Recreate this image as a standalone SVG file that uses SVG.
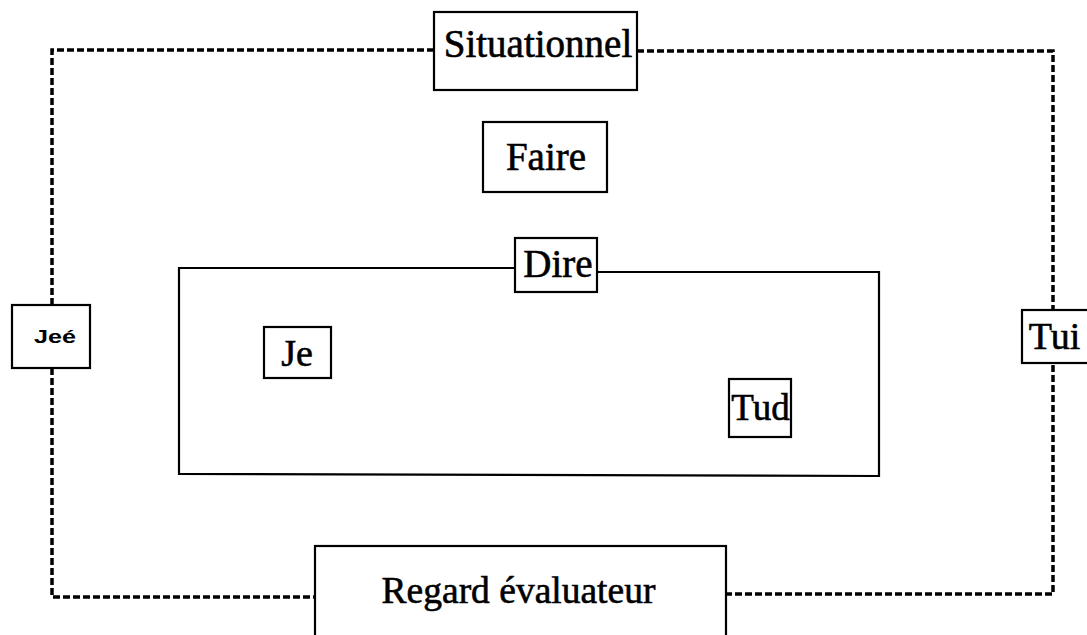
<svg xmlns="http://www.w3.org/2000/svg" width="1087" height="635" viewBox="0 0 1087 635">
<style>
.box{fill:#fff;stroke:#000;stroke-width:2.2}
.t{font-family:"Liberation Serif","Times New Roman",serif;fill:#000;stroke:#000;stroke-width:0.6;text-anchor:middle}
.s{font-family:"Liberation Sans",Arial,sans-serif;font-weight:bold;fill:#000;text-anchor:middle}
.dash{fill:none;stroke:#000;stroke-width:3.5;stroke-dasharray:7 3}
.solid{fill:none;stroke:#000;stroke-width:2.2}
</style>
<rect width="1087" height="635" fill="#fff"/>
<g id="connectors">
<polyline class="dash" points="434,50 52,50 52,597 316,597"/>
<polyline class="dash" points="637,51 1053,51 1053,594 726,594"/>
<polyline id="dire-frame" class="solid" points="515,268 179,268 179,474 879,476 879,272 597,272"/>
</g>
<g id="situationnel"><rect class="box" x="434" y="12" width="203" height="78"/><text class="t" x="538" y="57" font-size="39">Situationnel</text></g>
<g id="faire"><rect class="box" x="483" y="122" width="124" height="70"/><text class="t" x="546" y="170" font-size="39">Faire</text></g>
<g id="dire"><rect class="box" x="515" y="238" width="82" height="54"/><text class="t" x="558" y="277" font-size="39">Dire</text></g>
<g id="je"><rect class="box" x="264" y="327" width="67" height="51"/><text class="t" x="297" y="366" font-size="38">Je</text></g>
<g id="tud"><rect class="box" x="729" y="379" width="62" height="58"/><text class="t" x="760.5" y="420" font-size="37">Tud</text></g>
<g id="jee"><rect class="box" x="12" y="305" width="78" height="63"/><text class="s" x="55" y="343" font-size="19" textLength="42" lengthAdjust="spacingAndGlyphs">Jeé</text></g>
<g id="tui"><rect class="box" x="1022" y="310" width="70" height="53"/><text class="t" x="1054.5" y="349" font-size="38">Tui</text></g>
<g id="regard"><rect class="box" x="315" y="546" width="411" height="100"/><text class="t" x="518.5" y="603" font-size="37.5">Regard évaluateur</text></g>
</svg>
